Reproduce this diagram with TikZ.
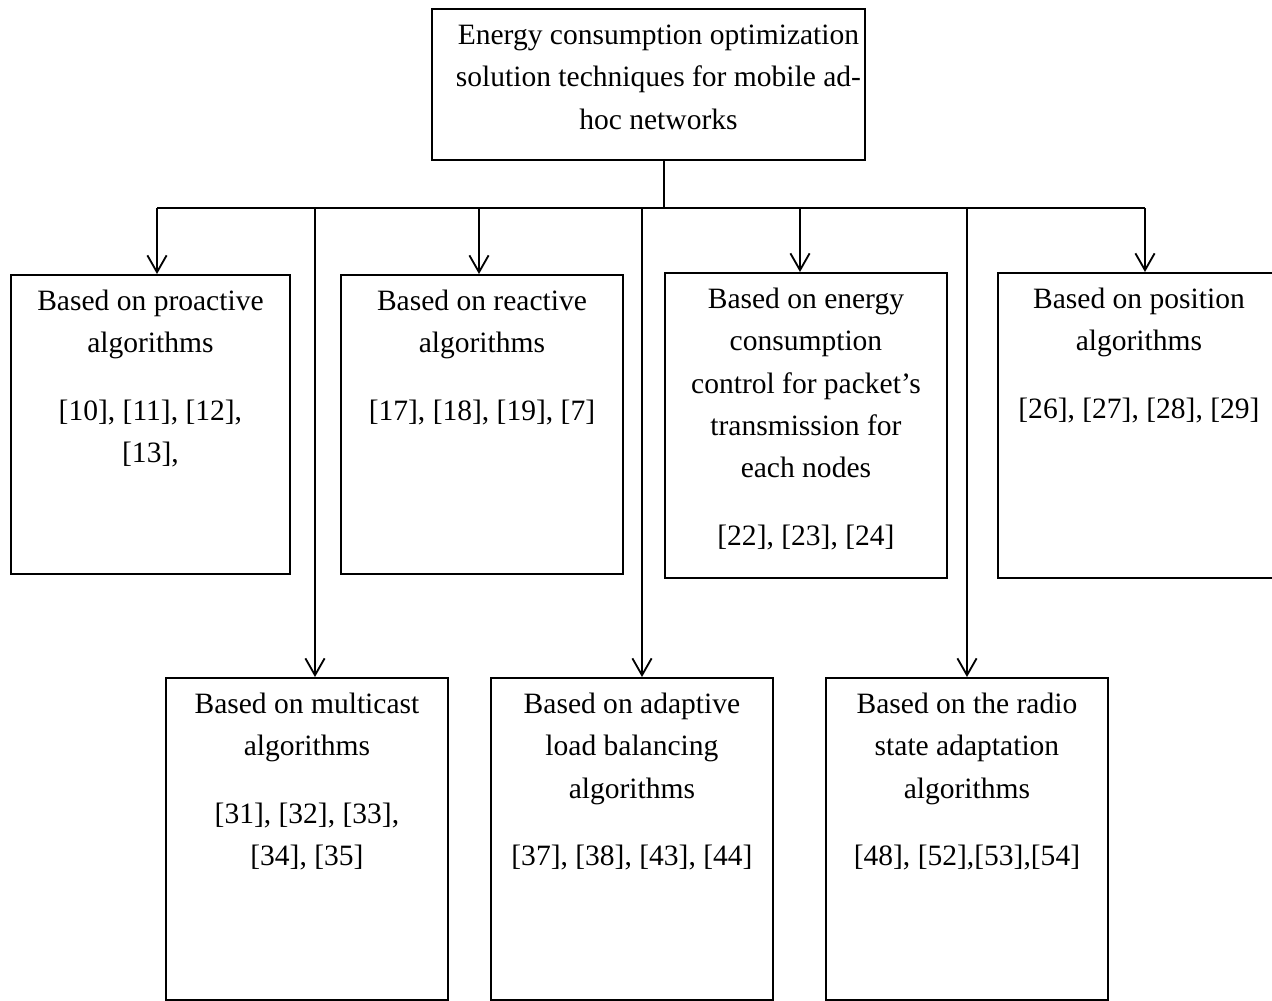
\documentclass[tikz,border=0pt]{standalone}
\usepackage{fontspec}
\setmainfont{Liberation Serif}
\usepackage{tikz}
\usetikzlibrary{arrows.meta}

\newcommand{\boxtxt}[3]{\parbox[c][#2][t]{#1}{\centering\rule{0pt}{25.5pt}#3}}

\begin{document}
\begin{tikzpicture}[x=0.025cm,y=-0.025cm,
	catbox/.style={draw, line width=1.3pt, inner sep=0pt, anchor=north west, font=\fontsize{21}{30}\selectfont},
	link/.style={line width=1.3pt},
	arr/.style={line width=1.3pt, -{Straight Barb[length=0.42cm,width=0.48cm]}}]
\useasboundingbox (0,0) rectangle (1272,1001);
\clip (0,0) rectangle (1272,1001);
\node [catbox] (root) at (431,8) {\boxtxt{10.825cm}{3.775cm}{\hspace*{0.5cm}Energy consumption optimization\\\hspace*{0.5cm}solution techniques for mobile ad-\\\hspace*{0.5cm}hoc networks}};
\node [catbox] (proact) at (10,274) {\boxtxt{6.975cm}{7.475cm}{Based on proactive\\algorithms\\[18pt][10], [11], [12],\\{}[13],}};
\node [catbox] (react) at (340,274) {\boxtxt{7.05cm}{7.475cm}{Based on reactive\\algorithms\\[18pt][17], [18], [19], [7]}};
\node [catbox] (energy) at (664,272) {\boxtxt{7.05cm}{7.625cm}{Based on energy\\consumption\\control for packet’s\\transmission for\\each nodes\\[18pt][22], [23], [24]}};
\node [catbox] (posit) at (997,272) {\boxtxt{7.05cm}{7.625cm}{Based on position\\algorithms\\[18pt][26], [27], [28], [29]}};
\node [catbox] (multi) at (165,677) {\boxtxt{7.05cm}{8.05cm}{Based on multicast\\algorithms\\[18pt][31], [32], [33],\\{}[34], [35]}};
\node [catbox] (adapt) at (490,677) {\boxtxt{7.05cm}{8.05cm}{Based on adaptive\\load balancing\\algorithms\\[18pt][37], [38], [43], [44]}};
\node [catbox] (radio) at (825,677) {\boxtxt{7.05cm}{8.05cm}{Based on the radio\\state adaptation\\algorithms\\[18pt][48], [52],[53],[54]}};

\coordinate (bus) at (664,208);
\coordinate (j1) at (157,208);
\coordinate (j2) at (315,208);
\coordinate (j3) at (479,208);
\coordinate (j4) at (642,208);
\coordinate (j5) at (800,208);
\coordinate (j6) at (967,208);
\coordinate (j7) at (1145,208);

\draw [link] (bus |- root.south) -- (bus);
\draw [link] (j1) -- (j7);
\draw [arr] (j1) -- (j1 |- proact.north);
\draw [arr] (j3) -- (j3 |- react.north);
\draw [arr] (j5) -- (j5 |- energy.north);
\draw [arr] (j7) -- (j7 |- posit.north);
\draw [arr] (j2) -- (j2 |- multi.north);
\draw [arr] (j4) -- (j4 |- adapt.north);
\draw [arr] (j6) -- (j6 |- radio.north);
\end{tikzpicture}
\end{document}
